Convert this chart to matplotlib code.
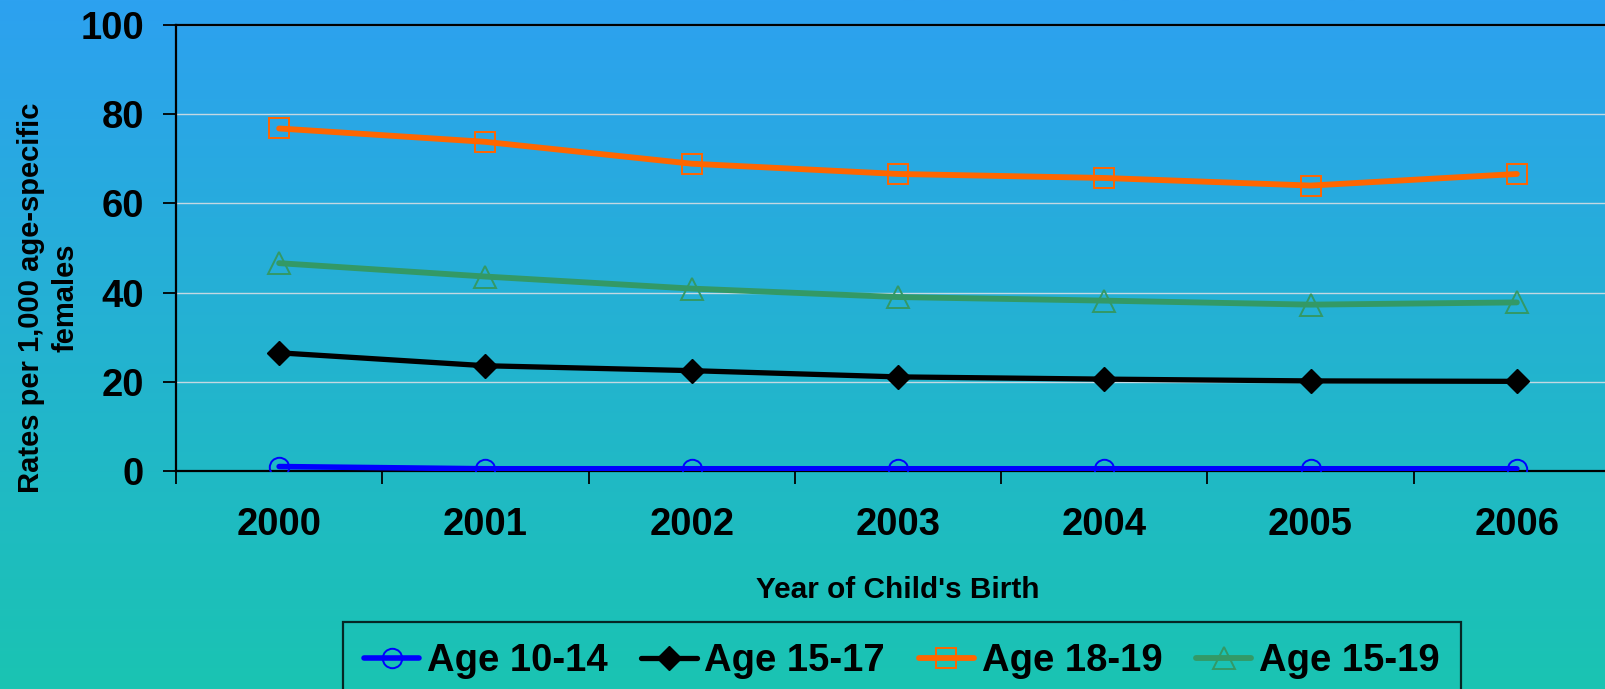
import numpy as np
import matplotlib.pyplot as plt
from matplotlib.colors import LinearSegmentedColormap

plt.rcParams['font.family'] = ['Liberation Sans', 'DejaVu Sans']
plt.rcParams['font.weight'] = 'bold'

# data
years = ['2000', '2001', '2002', '2003', '2004', '2005', '2006']
age_10_14 = [1.0, 0.5, 0.5, 0.5, 0.5, 0.5, 0.5]
age_15_17 = [26.5, 23.6, 22.5, 21.1, 20.6, 20.2, 20.1]
age_18_19 = [76.8, 73.8, 68.9, 66.6, 65.7, 64.0, 66.6]
age_15_19 = [46.6, 43.6, 40.9, 39.0, 38.2, 37.3, 37.8]

W, H = 1606, 689
fig = plt.figure(figsize=(W / 100, H / 100), dpi=100)

# background gradient, blue at top to teal at bottom
bg = fig.add_axes([0, 0, 1, 1], zorder=-10)
cmap = LinearSegmentedColormap.from_list('bg', [(45/255, 161/255, 240/255), (26/255, 196/255, 178/255)])
bg.imshow(np.linspace(0, 1, 256).reshape(-1, 1), cmap=cmap, aspect='auto', extent=[0, 1, 0, 1])
bg.set_axis_off()

left, right, bottom, top = 176, 1620, 471, 25
ax = fig.add_axes([left / W, 1 - bottom / H, (right - left) / W, (bottom - top) / H])
ax.set_facecolor('none')

x = np.arange(len(years))
ax.plot(x, age_10_14, color='#0000FF', lw=4, marker='o', ms=14, mfc='none', mec='#0000FF', mew=1.4,
        solid_capstyle='round', label='Age 10-14', zorder=3)
ax.plot(x, age_15_17, color='black', lw=3.8, marker='D', ms=12, mfc='black', mec='black',
        solid_capstyle='round', label='Age 15-17', zorder=3)
ax.plot(x, age_18_19, color='#FF6600', lw=4.2, marker='s', ms=14, mfc='none', mec='#FF6600', mew=1.4,
        solid_capstyle='round', label='Age 18-19', zorder=3)
ax.plot(x, age_15_19, color='#339966', lw=4.2, marker='^', ms=16, mfc='none', mec='#339966', mew=1.4,
        solid_capstyle='round', label='Age 15-19', zorder=3)

ax.set_xlim(-0.5, len(years) - 0.5)
ax.set_ylim(0, 100)
ax.set_yticks([0, 20, 40, 60, 80, 100])
ax.yaxis.grid(True, color='#c4d8e2', lw=1)
ax.set_axisbelow(True)

ax.set_xticks(x)
ax.set_xticklabels(years)
ax.set_xticks(np.arange(-0.5, len(years)), minor=True)
ax.tick_params(axis='x', which='major', length=0, pad=26, labelsize=27.5)
ax.tick_params(axis='x', which='minor', length=9.4, width=1.3, direction='out')
ax.tick_params(axis='y', length=9.4, width=1.3, pad=13.5, labelsize=27.5)
for lab in ax.get_xticklabels() + ax.get_yticklabels():
    lab.set_fontweight('bold')

ax.spines['right'].set_visible(False)
for s in ['left', 'bottom', 'top']:
    ax.spines[s].set_linewidth(1.6)
    ax.spines[s].set_color('black')

fig.text(48 / W, 1 - 297.5 / H, "Rates per 1,000 age-specific\nfemales", rotation=90,
         ha='center', va='center', multialignment='center', fontsize=21, fontweight='bold', linespacing=1.3)
fig.text(898 / W, 1 - 598 / H, "Year of Child's Birth", ha='center', va='baseline',
         fontsize=21.4, fontweight='bold')

leg = fig.legend(loc='upper left', bbox_to_anchor=(343 / W, 1 - 622 / H), bbox_transform=fig.transFigure,
                 ncol=4, frameon=True, fancybox=False, borderaxespad=0, borderpad=0.55,
                 handlelength=1.45, handletextpad=0.2, columnspacing=0.88,
                 prop={'size': 27.5, 'weight': 'bold'})
leg.get_frame().set_facecolor('none')
leg.get_frame().set_edgecolor('black')
leg.get_frame().set_linewidth(1.6)

fig.savefig('out.png', dpi=100)
